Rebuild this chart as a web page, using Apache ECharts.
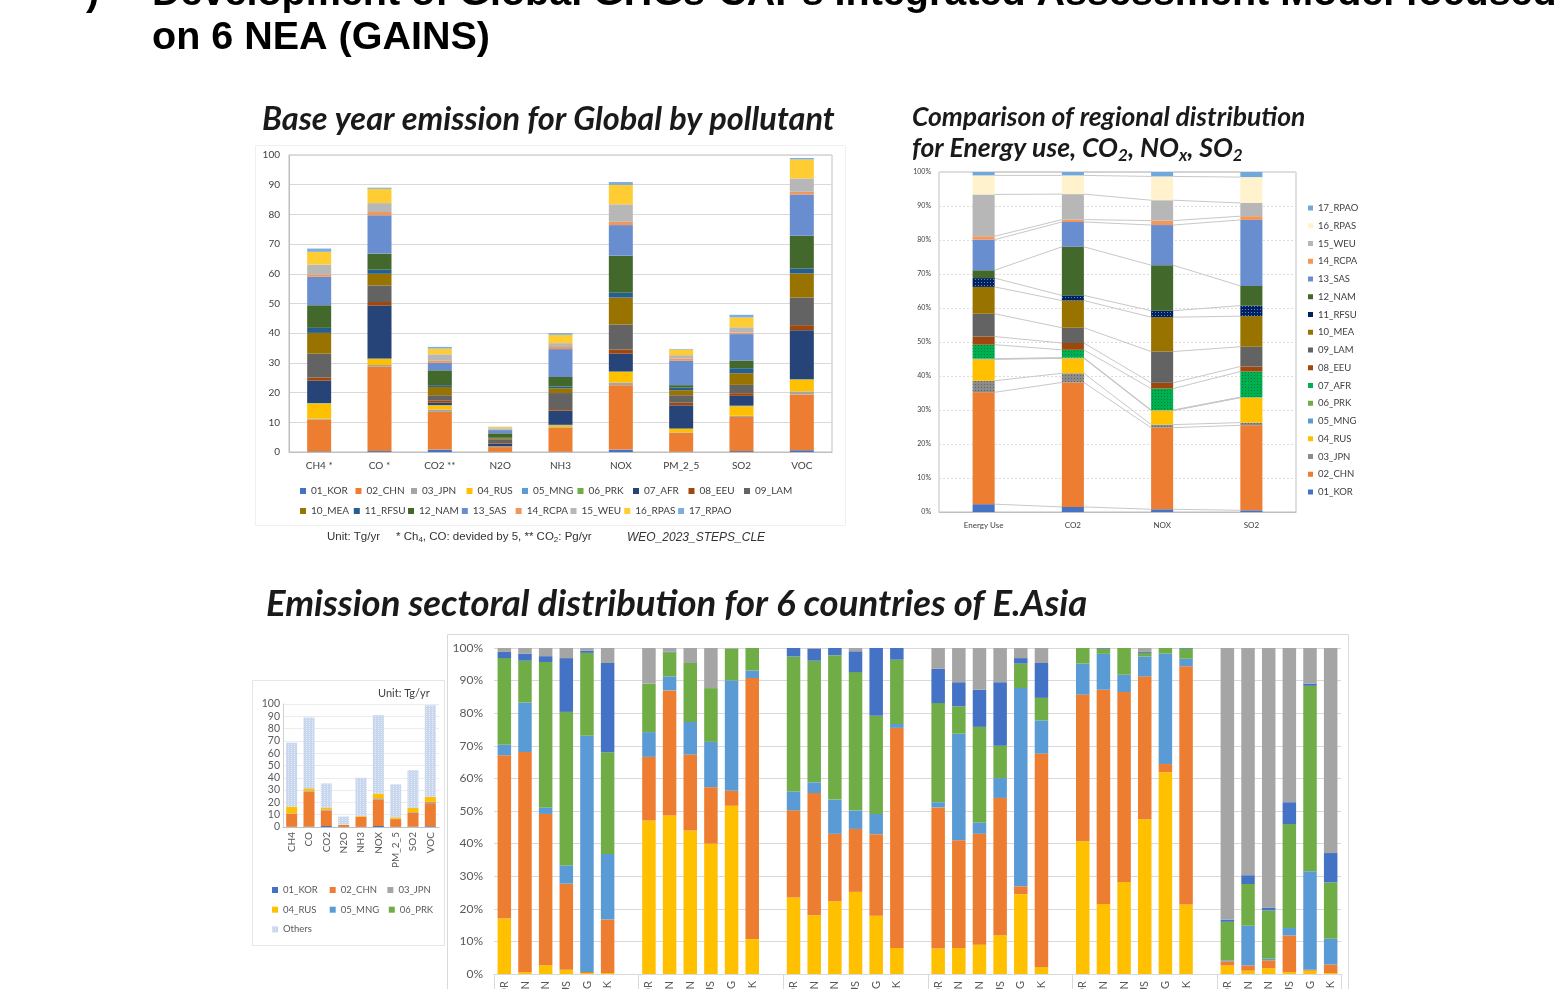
<!DOCTYPE html>
<html>
<head>
<meta charset="utf-8">
<script src="https://cdn.jsdelivr.net/npm/echarts@6/dist/echarts.min.js"></script>
<style>
  html, body { margin: 0; padding: 0; background: #ffffff; overflow: hidden; }
  #c { width: 1562px; height: 989px; }
</style>
</head>
<body>
<div id="c"></div>
<script>
// ---------------- Base year emission for Global by pollutant (stacked by region) ----------------
const pollutants = ['CH4 *', 'CO *', 'CO2 **', 'N2O', 'NH3', 'NOX', 'PM_2_5', 'SO2', 'VOC'];
const pollutantsShort = ['CH4', 'CO', 'CO2', 'N2O', 'NH3', 'NOX', 'PM_2_5', 'SO2', 'VOC'];
const regionNames = ['01_KOR', '02_CHN', '03_JPN', '04_RUS', '05_MNG', '06_PRK', '07_AFR', '08_EEU', '09_LAM',
                     '10_MEA', '11_RFSU', '12_NAM', '13_SAS', '14_RCPA', '15_WEU', '16_RPAS', '17_RPAO'];

// emissions per pollutant (order as `pollutants`), Tg/yr (CH4, CO /5; CO2 Pg/yr)
const em_KOR  = [0.2, 0.3, 0.8, 0.05, 0.1, 0.8, 0.1, 0.3, 0.6];
const em_CHN  = [10.7, 28.4, 12.7, 1.6, 8.1, 21.7, 6.3, 11.5, 18.8];
const em_JPN  = [0.3, 0.6, 0.8, 0.1, 0.2, 0.9, 0.2, 0.4, 1.0];
const em_RUS  = [5.1, 2.0, 1.4, 0.1, 0.6, 3.6, 1.2, 3.2, 4.0];
const em_MNG  = [0.1, 0.1, 0.05, 0.02, 0.1, 0.05, 0.05, 0.1, 0.05];
const em_PRK  = [0.1, 0.1, 0.05, 0.02, 0.05, 0.05, 0.05, 0.1, 0.05];
const em_AFR  = [7.5, 17.8, 0.8, 0.9, 4.8, 6.0, 7.8, 3.3, 16.5];
const em_EEU  = [1.1, 1.2, 0.8, 0.2, 0.5, 1.4, 0.9, 0.9, 1.7];
const em_LAM  = [8.0, 5.6, 1.7, 1.1, 5.4, 8.4, 2.5, 2.8, 9.3];
const em_MEA  = [7.0, 3.9, 2.8, 0.5, 1.6, 9.1, 1.7, 3.9, 8.1];
const em_RFSU = [1.7, 1.4, 0.6, 0.2, 0.6, 1.6, 0.9, 1.7, 1.7];
const em_NAM  = [7.6, 5.4, 5.0, 1.5, 3.2, 12.5, 0.8, 2.6, 11.0];
const em_SAS  = [9.6, 12.9, 2.5, 1.1, 9.4, 10.3, 8.2, 8.9, 13.9];
const em_RCPA = [0.8, 1.1, 0.7, 0.1, 0.7, 1.1, 0.8, 0.5, 0.9];
const em_WEU  = [3.3, 3.0, 2.2, 0.5, 1.3, 5.9, 1.1, 1.8, 4.5];
const em_RPAS = [4.3, 4.8, 1.9, 0.4, 2.8, 6.5, 1.9, 3.3, 6.4];
const em_RPAO = [1.1, 0.4, 0.6, 0.1, 0.6, 1.0, 0.2, 0.9, 0.5];
const emissionRows = [em_KOR, em_CHN, em_JPN, em_RUS, em_MNG, em_PRK, em_AFR, em_EEU, em_LAM,
                      em_MEA, em_RFSU, em_NAM, em_SAS, em_RCPA, em_WEU, em_RPAS, em_RPAO];

// ---------------- Regional shares (%) for Energy use, CO2, NOx, SO2 ----------------
const shareCats = ['Energy Use', 'CO2', 'NOX', 'SO2'];
const sh_KOR  = [2.3, 1.5, 0.8, 0.5];
const sh_CHN  = [32.9, 36.6, 24.0, 25.0];
const sh_JPN  = [3.4, 2.7, 0.9, 0.8];
const sh_RUS  = [6.3, 4.4, 4.1, 7.3];
const sh_MNG  = [0.1, 0.1, 0.1, 0.1];
const sh_PRK  = [0.1, 0.1, 0.1, 0.1];
const sh_AFR  = [4.1, 2.3, 6.3, 7.5];
const sh_EEU  = [2.4, 2.0, 1.7, 1.5];
const sh_LAM  = [6.7, 4.5, 9.2, 5.8];
const sh_MEA  = [7.9, 8.0, 10.1, 9.0];
const sh_RFSU = [2.6, 1.5, 1.9, 3.1];
const sh_NAM  = [2.3, 14.3, 13.4, 5.8];
const sh_SAS  = [9.0, 7.3, 11.8, 19.4];
const sh_RCPA = [1.0, 0.7, 1.3, 1.1];
const sh_WEU  = [12.3, 7.5, 6.0, 3.9];
const sh_RPAS = [5.6, 5.5, 7.0, 7.6];
const sh_RPAO = [1.0, 1.0, 1.3, 1.5];
const shareRows = [sh_KOR, sh_CHN, sh_JPN, sh_RUS, sh_MNG, sh_PRK, sh_AFR, sh_EEU, sh_LAM,
                   sh_MEA, sh_RFSU, sh_NAM, sh_SAS, sh_RCPA, sh_WEU, sh_RPAS, sh_RPAO];

// ---------------- Sectoral distribution (%) for 6 countries, 6 blocks ----------------
const countries = ['KOR', 'CHN', 'JPN', 'RUS', 'MNG', 'PRK'];
const sectorNames = ['Power', 'Industry', 'Residential', 'Transport', 'Solvents', 'Agriculture'];
const sec_Power = [
  [17.0, 0.6, 2.7, 1.3, 0.3, 0.3], [47.1, 48.6, 44.0, 40.0, 51.6, 10.7], [23.5, 18.0, 22.3, 25.2, 17.9, 8.0],
  [7.8, 8.0, 9.0, 11.9, 24.5, 2.1], [40.7, 21.5, 28.2, 47.5, 61.9, 21.3], [2.6, 1.0, 1.8, 0.6, 1.0, 0.3]];
const sec_Industry = [
  [50.1, 67.5, 46.4, 26.4, 0.3, 16.4], [19.5, 38.4, 23.3, 17.3, 4.6, 80.1], [26.7, 37.5, 20.7, 19.3, 25.0, 67.5],
  [43.3, 33.0, 34.0, 42.1, 2.4, 65.5], [45.0, 65.7, 58.3, 43.8, 2.5, 73.1], [1.3, 1.6, 2.4, 11.2, 0.3, 2.6]];
const sec_Residential = [
  [3.2, 15.2, 2.0, 5.6, 72.5, 20.1], [7.6, 4.3, 10.0, 13.9, 33.9, 2.3], [5.8, 3.3, 10.5, 5.7, 6.2, 1.2],
  [1.6, 32.7, 3.5, 6.1, 60.8, 10.2], [9.5, 11.0, 5.3, 6.1, 33.9, 2.3], [0.3, 12.2, 0.5, 2.3, 30.2, 7.9]];
const sec_Transport = [
  [26.6, 12.8, 44.6, 47.1, 25.4, 31.2], [14.9, 7.4, 18.1, 16.5, 9.7, 6.9], [41.4, 37.3, 44.3, 42.4, 30.1, 19.7],
  [30.4, 8.4, 29.3, 9.9, 7.5, 6.9], [4.8, 1.6, 8.2, 1.1, 1.7, 3.1], [11.8, 12.8, 14.8, 31.9, 56.9, 17.3]];
const sec_Solvents = [
  [1.9, 2.1, 1.8, 16.5, 0.7, 27.4], [0, 0.2, 0, 0, 0, 0], [2.6, 3.7, 2.2, 6.4, 20.8, 3.6],
  [10.5, 7.4, 11.4, 19.5, 1.7, 10.7], [0, 0.2, 0, 0.3, 0, 0.2], [0.7, 2.7, 0.9, 6.7, 0.7, 9.0]];
const sec_Agriculture = [
  [1.2, 1.8, 2.5, 3.1, 0.8, 4.6], [10.9, 1.1, 4.6, 12.3, 0.2, 0], [0, 0.2, 0, 1.0, 0, 0],
  [6.4, 10.5, 12.8, 10.5, 3.1, 4.6], [0, 0, 0, 1.2, 0, 0], [83.3, 69.7, 79.6, 47.3, 10.9, 62.9]];
const sectorRows = [sec_Power, sec_Industry, sec_Residential, sec_Transport, sec_Solvents, sec_Agriculture];

// ---------------- styles ----------------
const regionColors = ['#4472C4', '#ED7D31', '#A5A5A5', '#FFC000', '#5B9BD5', '#70AD47', '#264478', '#9E480E', '#636363',
                      '#997300', '#255E91', '#43682B', '#698ED0', '#F1975A', '#B7B7B7', '#FFCD33', '#7CAFDD'];
const shareColors = ['#4472C4', '#ED7D31', '#8C8C8C', '#FFC000', '#5B9BD5', '#70AD47', '#00B050', '#9E480E', '#636363',
                     '#997300', '#002060', '#43682B', '#698ED0', '#F1975A', '#B7B7B7', '#FFF2CC', '#6FA8DC'];
const dottedDecal = {
  2:  { symbol: 'rect', symbolSize: 1, dashArrayX: [1, 2], dashArrayY: [1, 2], color: 'rgba(70,70,70,0.6)' },
  6:  { symbol: 'rect', symbolSize: 1, dashArrayX: [1, 2], dashArrayY: [1, 2], color: 'rgba(0,90,40,0.55)' },
  10: { symbol: 'rect', symbolSize: 1, dashArrayX: [1, 2], dashArrayY: [1, 2], color: 'rgba(120,160,230,0.8)' }
};
const sectorColors = ['#FFC000', '#ED7D31', '#5B9BD5', '#70AD47', '#4472C4', '#A5A5A5'];
const othersColor = '#C9D7EE';

const FONT = 'Lato, "Noto Sans", sans-serif';
const TITLE_FONT = 'Lato, "Open Sans", sans-serif';
const HEAD_FONT = '"Liberation Sans", Arial, sans-serif';
const labelGray = '#595959';

// ---------------- derived series data ----------------
// "Others" in the small panel: all regions outside the six NEA countries
const othersTotals = pollutantsShort.map((_, j) =>
  +emissionRows.slice(6).reduce((s, row) => s + row[j], 0).toFixed(2));

// series lines between neighbouring share bars: top of each stacked segment
const shareSeriesLines = [];
const running = shareCats.map(() => 0);
shareRows.forEach(row => {
  const tops = row.map((v, i) => (running[i] += v));
  for (let i = 0; i < shareCats.length - 1; i++) shareSeriesLines.push([i, tops[i], tops[i + 1]]);
});

// sector chart: 6 blocks of 6 countries, one empty slot between blocks
const sectorCats = [];
sectorRows[0].forEach((blk, g) => {
  countries.forEach(c => sectorCats.push(c));
  if (g < sectorRows[0].length - 1) sectorCats.push('');
});
function flattenBlocks(blocks) {
  const out = [];
  blocks.forEach((blk, g) => {
    blk.forEach(v => out.push(v));
    if (g < blocks.length - 1) out.push(null);
  });
  return out;
}

function fixedLegendText(width, size, color, lh) {
  return {
    formatter: name => '{t|' + name + '}',
    textStyle: { fontFamily: FONT, rich: { t: { width: width, fontSize: size, lineHeight: lh || 12, color: color, fontFamily: FONT } } }
  };
}

const noEmph = { disabled: true };

const series = [];
// chart 1
regionNames.forEach((n, k) => {
  series.push({
    name: n, type: 'bar', xAxisIndex: 0, yAxisIndex: 0, stack: 'global', barWidth: 24,
    data: emissionRows[k], itemStyle: { color: regionColors[k] }, emphasis: noEmph, z: 2
  });
});
// chart 2
regionNames.forEach((n, k) => {
  const style = { color: shareColors[k] };
  if (dottedDecal[k]) style.decal = dottedDecal[k];
  series.push({
    name: n, type: 'bar', xAxisIndex: 1, yAxisIndex: 1, stack: 'share', barWidth: '24.7%',
    data: shareRows[k], itemStyle: style, emphasis: noEmph, z: 3
  });
});
series.push({
  type: 'custom', xAxisIndex: 1, yAxisIndex: 1, silent: true, z: 1,
  data: shareSeriesLines, encode: { x: 0, y: 1 },
  renderItem(params, api) {
    const i = api.value(0);
    const a = api.coord([i, api.value(1)]);
    const b = api.coord([i + 1, api.value(2)]);
    const half = api.size([1, 0])[0] * 0.1235;
    return { type: 'line', shape: { x1: a[0] + half, y1: a[1], x2: b[0] - half, y2: b[1] },
             style: { stroke: '#c8c8c8', lineWidth: 1 } };
  }
});
// chart 3 (small overview)
regionNames.slice(0, 6).forEach((n, k) => {
  series.push({
    name: n, type: 'bar', xAxisIndex: 2, yAxisIndex: 2, stack: 'nea', barWidth: 11,
    data: emissionRows[k], itemStyle: { color: regionColors[k] }, emphasis: noEmph
  });
});
series.push({
  name: 'Others', type: 'bar', xAxisIndex: 2, yAxisIndex: 2, stack: 'nea', barWidth: 11,
  data: othersTotals, emphasis: noEmph,
  itemStyle: { color: othersColor,
    decal: { symbol: 'rect', symbolSize: 1, dashArrayX: [1, 2], dashArrayY: [1, 1], color: 'rgba(255,255,255,0.55)' } }
});
// chart 4 (sectoral)
sectorNames.forEach((n, k) => {
  series.push({
    name: n, type: 'bar', xAxisIndex: 3, yAxisIndex: 3, stack: 'sector', barWidth: 13.5,
    data: flattenBlocks(sectorRows[k]), itemStyle: { color: sectorColors[k] }, emphasis: noEmph
  });
});

const legendBase = { orient: 'horizontal', icon: 'rect', itemWidth: 6, itemHeight: 6, selectedMode: false, padding: 0 };

const option = {
  animation: false,
  backgroundColor: '#ffffff',
  textStyle: { fontFamily: FONT },
  grid: [
    { left: 289, top: 155, width: 543, height: 297, show: true, borderColor: '#bfbfbf', borderWidth: 1, outerBoundsMode: 'none' },
    { left: 939, top: 172, width: 357, height: 340, show: true, borderColor: '#bfbfbf', borderWidth: 1, outerBoundsMode: 'none' },
    { left: 283, top: 704, width: 156, height: 123, outerBoundsMode: 'none' },
    { left: 494, top: 648, width: 847, height: 326, outerBoundsMode: 'none' }
  ],
  xAxis: [
    { gridIndex: 0, type: 'category', data: pollutants,
      axisLine: { lineStyle: { color: '#bfbfbf' } }, axisTick: { show: false },
      axisLabel: { interval: 0, fontSize: 10, color: '#404040', margin: 9 } },
    { gridIndex: 1, type: 'category', data: shareCats,
      axisLine: { lineStyle: { color: '#bfbfbf' } }, axisTick: { show: false },
      axisLabel: { interval: 0, fontSize: 8, color: '#404040', margin: 9 } },
    { gridIndex: 2, type: 'category', data: pollutantsShort,
      axisLine: { lineStyle: { color: '#bfbfbf' } }, axisTick: { show: false },
      axisLabel: { interval: 0, fontSize: 10, color: labelGray, rotate: 90, margin: 5 } },
    { gridIndex: 3, type: 'category', data: sectorCats,
      axisLine: { lineStyle: { color: '#d9d9d9' } },
      axisTick: { show: true, length: 40, interval: idx => idx % 7 === 0, lineStyle: { color: '#d9d9d9' } },
      axisLabel: { interval: 0, fontSize: 11, color: labelGray, rotate: 90, margin: 7 } }
  ],
  yAxis: [
    { gridIndex: 0, type: 'value', min: 0, max: 100, interval: 10,
      axisLine: { show: true, lineStyle: { color: '#bfbfbf' } }, axisTick: { show: false },
      axisLabel: { fontSize: 10, color: '#404040', margin: 9 },
      splitLine: { lineStyle: { color: '#d9d9d9' } } },
    { gridIndex: 1, type: 'value', min: 0, max: 100, interval: 10,
      axisLine: { show: false }, axisTick: { show: false },
      axisLabel: { fontSize: 7, color: '#404040', margin: 8, formatter: '{value}%' },
      splitLine: { lineStyle: { color: '#dcdcdc', type: [2, 2] } } },
    { gridIndex: 2, type: 'value', min: 0, max: 100, interval: 10,
      axisLine: { show: true, lineStyle: { color: '#d0d0d0' } }, axisTick: { show: false },
      axisLabel: { fontSize: 10.5, color: labelGray, margin: 3 },
      splitLine: { lineStyle: { color: '#ececec' } } },
    { gridIndex: 3, type: 'value', min: 0, max: 100, interval: 10,
      axisLine: { show: false }, axisTick: { show: false },
      axisLabel: { fontSize: 12, color: labelGray, margin: 11, formatter: '{value}%' },
      splitLine: { lineStyle: { color: '#d9d9d9' } } }
  ],
  legend: [
    Object.assign({}, legendBase, fixedLegendText(42, 10, '#404040'),
      { data: regionNames.slice(0, 9), left: 300, top: 486, itemGap: 2.5 }),
    Object.assign({}, legendBase, fixedLegendText(40.3, 10, '#404040'),
      { data: regionNames.slice(9), left: 300, top: 506, itemGap: 2.5 }),
    Object.assign({}, legendBase, fixedLegendText(50, 9.5, '#404040', 12),
      { orient: 'vertical', left: 1308, top: 203, itemGap: 7.75, itemWidth: 5, itemHeight: 5,
        data: regionNames.map((n, k) => ({ name: n, itemStyle: { color: shareColors[k], decal: 'none' } })).reverse() }),
    Object.assign({}, legendBase, fixedLegendText(37, 9.5, labelGray),
      { left: 272, top: 885, width: 170, itemGap: 9.7,
        data: regionNames.slice(0, 6).concat(['Others']) })
  ],
  graphic: [
    // panel frames
    { type: 'rect', shape: { x: 255.5, y: 145.5, width: 590, height: 380 }, style: { fill: 'none', stroke: '#f0f0f0', lineWidth: 1 }, z: -1 },
    { type: 'rect', shape: { x: 252.5, y: 680.5, width: 192, height: 265 }, style: { fill: 'none', stroke: '#e6e6e6', lineWidth: 1 }, z: -1 },
    { type: 'rect', shape: { x: 447.5, y: 634.5, width: 901, height: 420 }, style: { fill: 'none', stroke: '#d9d9d9', lineWidth: 1 }, z: -1 },
    // slide heading
    { type: 'text', x: 86, y: -6, style: { text: ')', fontFamily: HEAD_FONT, fontWeight: 'bold', fontSize: 39.5, fill: '#000', verticalAlign: 'middle' } },
    { type: 'text', x: 152, y: -6, style: { text: 'Development of Global GHGs-CAPs Integrated Assessment Model focused', fontFamily: HEAD_FONT, fontWeight: 'bold', fontSize: 39.5, fill: '#000', verticalAlign: 'middle' } },
    { type: 'text', x: 152, y: 38, style: { text: 'on 6 NEA (GAINS)', fontFamily: HEAD_FONT, fontWeight: 'bold', fontSize: 39.5, fill: '#000', verticalAlign: 'middle' } },
    // panel titles
    { type: 'text', x: 262, y: 120, style: { text: 'Base year emission for Global by pollutant', fontFamily: TITLE_FONT, fontWeight: 'bold', fontStyle: 'italic', fontSize: 32.5, fill: '#1a1a1a', verticalAlign: 'middle' } },
    { type: 'text', x: 912, y: 117, style: { text: 'Comparison of regional distribution', fontFamily: TITLE_FONT, fontWeight: 'bold', fontStyle: 'italic', fontSize: 26.5, fill: '#1a1a1a', verticalAlign: 'middle' } },
    { type: 'text', x: 912, y: 148, style: {
        text: '{m|for Energy use, CO}{s|2}{m|, NO}{s|x}{m|, SO}{s|2}', verticalAlign: 'middle', fill: '#1a1a1a',
        rich: {
          m: { fontFamily: TITLE_FONT, fontWeight: 'bold', fontStyle: 'italic', fontSize: 26.5, lineHeight: 32, verticalAlign: 'middle', fill: '#1a1a1a' },
          s: { fontFamily: TITLE_FONT, fontWeight: 'bold', fontStyle: 'italic', fontSize: 17, lineHeight: 17, verticalAlign: 'bottom', fill: '#1a1a1a' }
        } } },
    { type: 'text', x: 266, y: 604, style: { text: 'Emission sectoral distribution for 6 countries of E.Asia', fontFamily: TITLE_FONT, fontWeight: 'bold', fontStyle: 'italic', fontSize: 36.5, fill: '#1a1a1a', verticalAlign: 'middle' } },
    // notes
    { type: 'text', x: 327, y: 537, style: {
        text: '{m|Unit: Tg/yr     * Ch}{s|4}{m|, CO: devided by 5, ** CO}{s|2}{m|: Pg/yr}', verticalAlign: 'middle',
        rich: {
          m: { fontFamily: HEAD_FONT, fontSize: 11.5, lineHeight: 14, verticalAlign: 'middle', fill: '#333' },
          s: { fontFamily: HEAD_FONT, fontSize: 8, lineHeight: 8, verticalAlign: 'bottom', fill: '#333' }
        } } },
    { type: 'text', x: 627, y: 538, style: { text: 'WEO_2023_STEPS_CLE', fontFamily: HEAD_FONT, fontStyle: 'italic', fontSize: 12, fill: '#333', verticalAlign: 'middle' } },
    { type: 'text', x: 378, y: 693, style: { text: 'Unit: Tg/yr', fontFamily: FONT, fontSize: 11, fill: '#404040', verticalAlign: 'middle' } }
  ],
  series: series
};

const chart = echarts.init(document.getElementById('c'), null, { renderer: 'canvas', width: 1562, height: 989 });
chart.setOption(option);
</script>
</body>
</html>
